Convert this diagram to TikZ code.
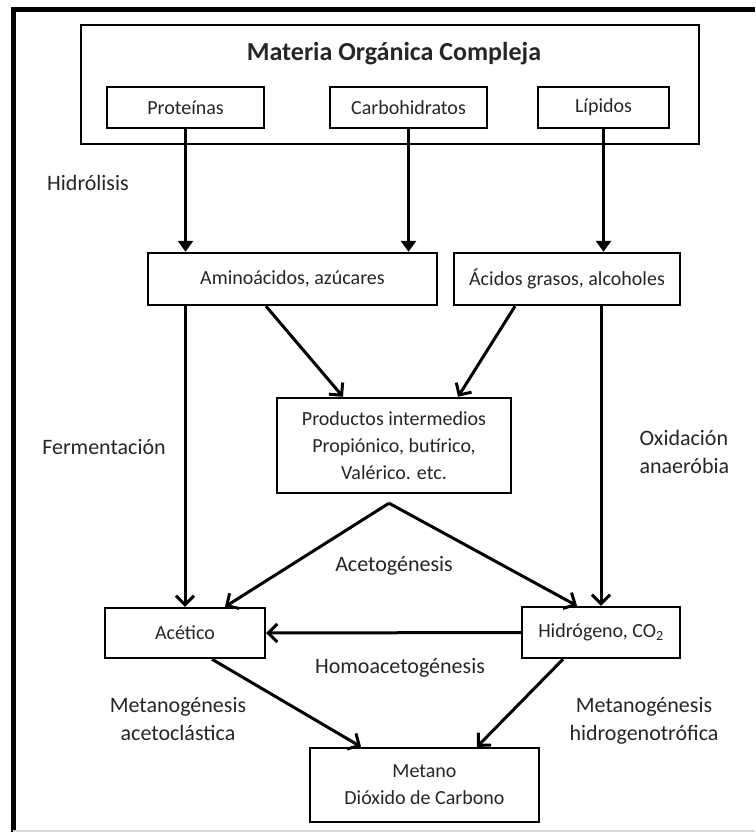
\documentclass[tikz,border=0pt]{standalone}
\usepackage{fontspec}
\setmainfont{Carlito}
\usetikzlibrary{arrows.meta}

\begin{document}
\begin{tikzpicture}[x=1pt,y=-1pt,
  caja/.style={draw,line width=2.4pt,inner sep=0pt,align=center,text=black!85,
    font=\fontsize{20}{27}\selectfont},
  rotulo/.style={align=center,text=black!85,font=\fontsize{22}{28}\selectfont},
  flecha/.style={line width=3pt,-{Straight Barb[length=9pt,width=18pt,line width=3pt]}},
  entrada/.style={line width=3pt,-{Triangle[length=11pt,width=15pt]}}]
  \useasboundingbox (0,0) rectangle (755,832);
  \fill[white] (0,0) rectangle (755,832);
  % marco
  \draw[line width=5pt] (13,832) -- (13,10) -- (755,10);
  \draw[black!15,line width=1.5pt] (13,831) -- (755,831);

  \node[caja,minimum width=618pt,minimum height=119pt] (materia) at (390,84.5) {};
  \node[text=black!85,font=\fontsize{26}{30}\selectfont\bfseries] (titulo) at (394,54) {Materia Orgánica Compleja};
  \node[caja,minimum width=157pt,minimum height=41pt] (prot) at (185.5,107.5) {Proteínas};
  \node[caja,minimum width=157pt,minimum height=41pt] (carb) at (408.5,107.5) {Carbohidratos};
  \node[caja,minimum width=131pt,minimum height=41pt] (lip) at (603.5,107.5) {Lípidos};
  \node[caja,minimum width=289pt,minimum height=52pt] (amino) at (292.5,279) {Aminoácidos, azúcares};
  \node[caja,minimum width=226pt,minimum height=52pt] (acidos) at (567,279) {Ácidos grasos, alcoholes};
  \node[caja,minimum width=234pt,minimum height=95pt] (prod) at (394,445.5)
    {Productos intermedios\\Propiónico, butírico,\\Valérico. etc.};
  \node[caja,minimum width=160pt,minimum height=50pt] (acetico) at (185,633) {Acético};
  \node[caja,minimum width=158pt,minimum height=51pt] (hidro) at (601,632.5) {Hidrógeno, CO\textsubscript{2}};
  \node[caja,minimum width=229pt,minimum height=74pt] (metano) at (424.5,785)
    {Metano\\Dióxido de Carbono};

  \node[rotulo] (hidrolisis) at (88,183) {Hidrólisis};
  \node[rotulo] (fermentacion) at (104,447) {Fermentación};
  \node[rotulo,align=left,anchor=west] (oxidacion) at (636,452) {Oxidación\\anaeróbia};
  \node[rotulo] (acetogenesis) at (394,566) {Acetogénesis};
  \node[rotulo] (homoacetogenesis) at (400,668) {Homoacetogénesis};
  \node[rotulo] (metanoacet) at (178,719) {Metanogénesis\\acetoclástica};
  \node[rotulo] (metanohidro) at (644,721) {Metanogénesis\\hidrogenotrófica};

  \draw[entrada] (prot) -- (prot |- amino.north);
  \draw[entrada] (carb) -- (carb |- amino.north);
  \draw[entrada] (lip) -- (lip |- acidos.north);
  \draw[flecha] ([xshift=-26.5pt]amino.south) -- ([xshift=-51pt]prod.north);
  \draw[flecha] ([xshift=-52pt]acidos.south) -- ([xshift=64pt]prod.north);
  \draw[flecha] (acetico.north |- amino.south) -- (acetico.north);
  \draw[flecha] (hidro.north |- acidos.south) -- (hidro.north);
  \coordinate (vertice) at ([yshift=-9pt,xshift=-5pt]prod.south);
  \draw[flecha] (vertice) -- ([xshift=40pt]acetico.north);
  \draw[flecha] (vertice) -- ([xshift=-24pt]hidro.north);
  \draw[flecha] (hidro.west) -- (acetico.east);
  \draw[flecha] ([xshift=27pt]acetico.south) -- ([xshift=-63.5pt]metano.north);
  \draw[flecha] ([xshift=-38pt]hidro.south) -- ([xshift=52.5pt]metano.north);
\end{tikzpicture}
\end{document}
